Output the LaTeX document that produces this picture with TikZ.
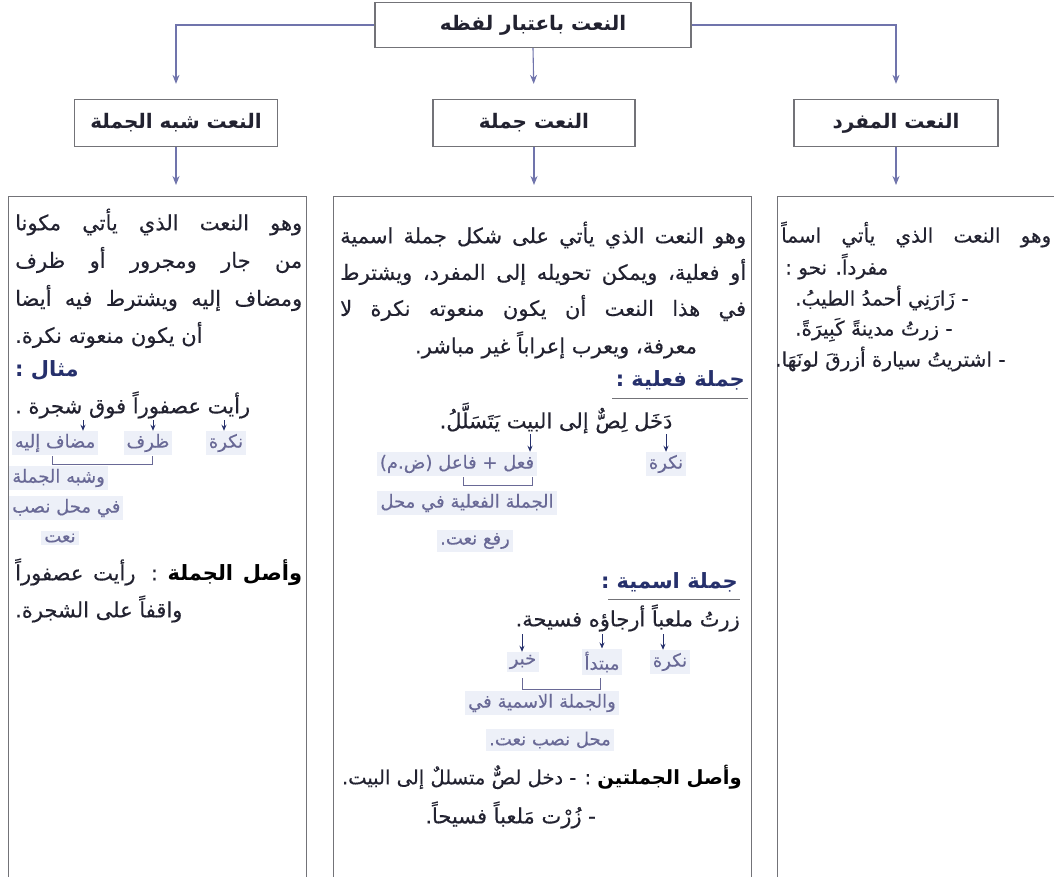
\documentclass[tikz,border=0pt]{standalone}
\usepackage{fontspec}
\newfontfamily\ar[Script=Arabic, UprightFeatures={FakeBold=0.35}]{DejaVu Sans}
\TeXXeTstate=1
\usetikzlibrary{arrows.meta}
\definecolor{boxc}{RGB}{115,115,120}
\definecolor{connc}{RGB}{112,116,172}
\definecolor{txt}{RGB}{34,34,48}
\definecolor{head}{RGB}{38,48,108}
\definecolor{lab}{RGB}{105,105,150}
\definecolor{labbg}{RGB}{237,240,248}
\newcommand\JL[2]{\hbox to #1{\spaceskip=.3em plus 1fil #2}}
\newcommand\HB[1]{\textcolor{head}{\bfseries #1}}
\tikzset{
  hbox/.style={draw=boxc, line width=1.3pt, fill=white, font=\ar\bfseries\fontsize{20}{24}\selectfont, text=txt, inner sep=0pt},
  cbox/.style={draw=boxc, line width=1.3pt, anchor=north west, inner sep=0pt, minimum height=720pt},
  conn/.style={draw=connc, line width=1.1pt, -{Stealth[length=9pt,width=7pt]}},
  body/.style={font=\ar\fontsize{21}{25}\selectfont, text=txt, inner sep=0pt, anchor=west},
  rbody/.style={body, font=\ar\fontsize{20}{23}\selectfont, text height=14pt, text depth=5pt},
  headt/.style={font=\ar\bfseries\fontsize{21}{25}\selectfont, text=head, inner sep=0pt},
  lbl/.style={font=\ar\fontsize{18}{21}\selectfont, text=lab, fill=labbg, inner sep=3pt},
  sarr/.style={draw=head, line width=0.9pt, -{Stealth[length=6pt,width=5pt]}},
  brk/.style={draw=lab, line width=0.8pt},
  uline/.style={draw=boxc, line width=1pt},
}
\begin{document}
\begin{tikzpicture}[x=1pt,y=-1pt]
\useasboundingbox (0,0) rectangle (1054,876);
\clip (0,0) rectangle (1054,876);
\fill[white] (0,0) rectangle (1054,876);

% header boxes
\node[hbox, minimum width=316pt, minimum height=45pt] (top) at (533,25) {\beginR النعت باعتبار لفظه\endR};
\node[hbox, minimum width=203pt, minimum height=47pt] (b1) at (176,123) {\beginR النعت شبه الجملة\endR};
\node[hbox, minimum width=202pt, minimum height=47pt] (b2) at (534,123) {\beginR النعت جملة\endR};
\node[hbox, minimum width=204pt, minimum height=47pt] (b3) at (896,123) {\beginR النعت المفرد\endR};

% content boxes
\node[cbox, minimum width=298pt] (c1) at (8,196) {};
\node[cbox, minimum width=418pt] (c2) at (333,196) {};
\node[cbox, minimum width=320pt] (c3) at (777,196) {};

% connectors
\draw[conn, shorten >=15pt] (top.west) -| (b1.north);
\draw[conn, shorten >=15pt] (top.east) -| (b3.north);
\draw[conn, shorten >=15pt] (top.south) -- (b2.north);
\draw[conn, shorten >=11pt] (b1.south) -- (b1.south |- c1.north);
\draw[conn, shorten >=11pt] (b2.south) -- (b2.south |- c2.north);
\draw[conn, shorten >=11pt] (b3.south) -- (b3.south |- c3.north);

% ---------- left box ----------
\node[body] (l1) at (15,222) {\JL{287pt}{\beginR وهو النعت الذي يأتي مكونا\endR}};
\node[body] (l2) at (15,260) {\JL{287pt}{\beginR من جار ومجرور أو ظرف\endR}};
\node[body] (l3) at (15,298) {\JL{287pt}{\beginR ومضاف إليه ويشترط فيه أيضا\endR}};
\node[body] (l4) at (15,335) {\beginR أن يكون منعوته نكرة.\endR};
\node[headt, anchor=west] (l5) at (15,370) {\beginR مثال :\endR};
\node[body] (l6) at (15,405) {\beginR رأيت عصفوراً فوق شجرة .\endR};
\node[lbl] (la1) at (55,443) {\beginR مضاف إليه\endR};
\node[lbl] (la2) at (148,443) {\beginR ظرف\endR};
\node[lbl] (la3) at (226,443) {\beginR نكرة\endR};
\coordinate (pa1) at (83,420);
\coordinate (pa2) at (153,420);
\coordinate (pa3) at (224,420);
\draw[sarr] (pa1) -- (pa1 |- la1.north);
\draw[sarr] (pa2) -- (pa2 |- la2.north);
\draw[sarr] (pa3) -- (pa3 |- la3.north);
\node[lbl, anchor=west] (la4) at (9,478) {\beginR وشبه الجملة\endR};
\node[lbl, anchor=west] (la5) at (9,508) {\beginR في محل نصب\endR};
\node[lbl] (la6) at (60,538) {\beginR نعت\endR};
\draw[brk] (52,456) -- (52,464) -- (152,464) -- (152,456);
\node[body] (l7) at (15,572) {\JL{287pt}{\beginR\HB{وأصل الجملة} : رأيت عصفوراً\endR}};
\node[body] (l8) at (15,609) {\beginR واقفاً على الشجرة.\endR};

% ---------- middle box ----------
\node[body] (m1) at (340,235) {\JL{406pt}{\beginR وهو النعت الذي يأتي على شكل جملة اسمية\endR}};
\node[body] (m2) at (340,272) {\JL{406pt}{\beginR أو فعلية، ويمكن تحويله إلى المفرد، ويشترط\endR}};
\node[body] (m3) at (340,308) {\JL{406pt}{\beginR في هذا النعت أن يكون منعوته نكرة لا\endR}};
\node[body, anchor=center] (m4) at (556,345) {\beginR معرفة، ويعرب إعراباً غير مباشر.\endR};
\node[headt, anchor=east] (mh1) at (745,380) {\beginR جملة فعلية :\endR};
\draw[uline] (612,398) -- (748,398);
\node[body, anchor=center] (ms1) at (556,418) {\beginR دَخَل لِصٌّ إلى البيت يَتَسَلَّلُ.\endR};
\node[lbl] (mf1) at (457,464) {\beginR فعل + فاعل (ض.م)\endR};
\node[lbl] (mn1) at (666,464) {\beginR نكرة\endR};
\coordinate (pm1) at (530,434);
\coordinate (pm2) at (666,434);
\draw[sarr] (pm1) -- (pm1 |- mf1.north);
\draw[sarr] (pm2) -- (pm2 |- mn1.north);
\node[lbl] (mf2) at (467,503) {\beginR الجملة الفعلية في محل\endR};
\draw[brk] (463,477) -- (463,485) -- (532,485) -- (532,477);
\node[lbl] (mf3) at (475,541) {\beginR رفع نعت.\endR};
\node[headt, anchor=east] (mh2) at (738,582) {\beginR جملة اسمية :\endR};
\draw[uline] (608,599) -- (740,599);
\node[body, anchor=east] (ms2) at (740,618) {\beginR زرتُ ملعباً أرجاؤه فسيحة.\endR};
\node[lbl] (mk1) at (523,662) {\beginR خبر\endR};
\node[lbl] (mk2) at (602,662) {\beginR مبتدأ\endR};
\node[lbl] (mk3) at (670,662) {\beginR نكرة\endR};
\coordinate (pk1) at (522,634);
\coordinate (pk2) at (602,634);
\coordinate (pk3) at (663,634);
\draw[sarr] (pk1) -- (pk1 |- mk1.north);
\draw[sarr] (pk2) -- (pk2 |- mk2.north);
\draw[sarr] (pk3) -- (pk3 |- mk3.north);
\node[lbl] (mk4) at (542,703) {\beginR والجملة الاسمية في\endR};
\draw[brk] (522,678) -- (522,689) -- (600,689) -- (600,678);
\node[lbl] (mk5) at (550,740) {\beginR محل نصب نعت.\endR};
\node[body, anchor=east, font=\ar\fontsize{19.5}{23}\selectfont] (mo1) at (742,777) {\beginR\HB{وأصل الجملتين} : - دخل لصٌّ متسللٌ إلى البيت.\endR};
\node[body, anchor=east] (mo2) at (596,815) {\beginR - زُرْت مَلعباً فسيحاً.\endR};

% ---------- right box ----------
\node[rbody] (r1) at (781,238) {\JL{270pt}{\beginR وهو النعت الذي يأتي اسماً\endR}};
\node[rbody] (r2) at (785,270) {\beginR مفرداً. نحو :\endR};
\node[rbody] (r3) at (795,301) {\beginR - زَارَنِي أحمدُ الطيبُ.\endR};
\node[rbody] (r4) at (795,331) {\beginR - زرتُ مدينةً كَبِيرَةً.\endR};
\node[rbody] (r5) at (775,362) {\beginR - اشتريتُ سيارة أزرقَ لونَهَا.\endR};
\end{tikzpicture}
\end{document}
